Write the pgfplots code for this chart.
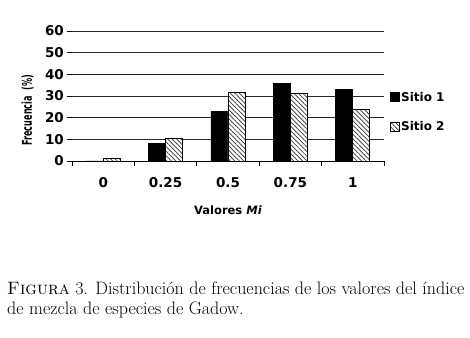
\documentclass[border=0pt]{standalone}
\usepackage{graphicx}
\usepackage{fontspec}
\usepackage{pgfplots}
\pgfplotsset{compat=1.18}
\usetikzlibrary{patterns.meta}
\newfontfamily\chartfont{DejaVu Sans}
\begin{document}
\begin{tikzpicture}
\path[use as bounding box] (0,0) rectangle (470bp,338bp);
\begin{axis}[
  at={(72bp,177bp)}, anchor=south west,
  scale only axis, width=312bp, height=130bp,
  xmin=-0.5, xmax=4.5, ymin=0, ymax=60,
  ytick={0,10,...,60},
  xtick={-0.5,0.5,1.5,2.5,3.5,4.5},
  x tick label as interval,
  xticklabels={0,0.25,0.5,0.75,1},
  axis x line*=bottom, axis y line*=left,
  y axis line style={draw=none},
  x axis line style={black, line width=0.9bp, -},
  ymajorgrids, grid style={black!85, line width=0.9bp},
  tick align=outside, major tick length=5bp,
  tick style={black, line width=0.9bp},
  /pgf/number format/assume math mode=true,
  font=\chartfont\bfseries\fontsize{13.5bp}{15bp}\selectfont,
  yticklabel style={inner sep=0pt, xshift=-3bp},
  xticklabel style={yshift=-8bp},
  ylabel={\scalebox{0.6}[1]{Frecuencia\ \ (\%)}},
  ylabel style={font=\chartfont\bfseries\fontsize{13.5bp}{15bp}\selectfont,
    at={(axis description cs:-0.142,0.39)}, anchor=center},
  xlabel={Valores \textit{Mi}},
  xlabel style={font=\chartfont\bfseries\fontsize{11.5bp}{14bp}\selectfont,
    at={(axis description cs:0.5,-0.38)}, anchor=center},
  ybar=0pt, bar width=17bp,
  legend style={at={(1.019,0.377)}, anchor=west, draw=none, fill=none,
    font=\chartfont\bfseries\fontsize{12bp}{14bp}\selectfont,
    row sep=15bp, inner sep=0pt},
  legend cell align=left,
  legend image code/.code={\draw[#1] (0bp,-4.5bp) rectangle (8.5bp,4.5bp);},
]
\addplot[fill=black, draw=black, line width=0.6bp] coordinates {(0,0) (1,8.2) (2,22.8) (3,35.8) (4,33.1)};
\addplot[fill=white, draw=black, line width=0.6bp, postaction={pattern={Lines[angle=-45,distance=3.2bp,line width=0.7bp]}, pattern color=black!80}] coordinates {(0,1.2) (1,10.5) (2,31.7) (3,31.2) (4,23.8)};
\legend{Sitio 1, Sitio 2}
\end{axis}
\node[anchor=base west, inner sep=0pt, font=\fontsize{18bp}{21bp}\selectfont] at (7bp,43bp) {\textsc{Figura} 3. Distribución de frecuencias de los valores del índice};
\node[anchor=base west, inner sep=0pt, font=\fontsize{18bp}{21bp}\selectfont] at (7bp,24bp) {de mezcla de especies de Gadow.};
\end{tikzpicture}
\end{document}
